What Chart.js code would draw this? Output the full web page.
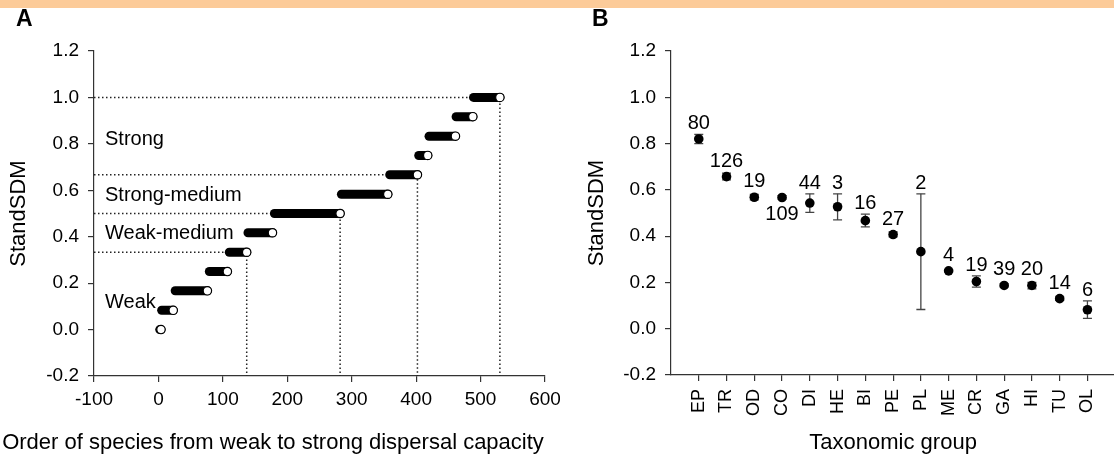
<!DOCTYPE html>
<html>
<head>
<meta charset="utf-8">
<title>StandSDM</title>
<script src="https://cdn.jsdelivr.net/npm/chart.js@4.4.1/dist/chart.umd.min.js"></script>
<style>
  html, body { margin: 0; padding: 0; background: #fff; }
  body { position: relative; width: 1114px; height: 463px; overflow: hidden; font-family: "Liberation Sans", Arial, sans-serif; }
  .strip { position: absolute; left: 0; top: 0; width: 1114px; height: 8px; background: #fccb99; }
  .panel { position: absolute; top: 0; }
  .letter { position: absolute; top: 7px; font-size: 23px; font-weight: bold; line-height: 1; }
</style>
</head>
<body>
<div class="strip"></div>
<canvas id="chartA" class="panel" style="left:0" width="560" height="463"></canvas>
<canvas id="chartB" class="panel" style="left:560px" width="561" height="463"></canvas>
<div class="letter" style="left:16px">A</div>
<div class="letter" style="left:592px">B</div>
<script>
// panel A: species ordered by StandSDM, one run of ranks per level
const sdmLevels = [0, 0.083, 0.167, 0.25, 0.333, 0.417, 0.5, 0.583, 0.667, 0.75, 0.833, 0.917, 1.0];
const rankStart = [2, 5, 26, 79, 110, 139, 180, 284, 359, 404, 420, 462, 489];
const rankEnd   = [4, 23, 76, 107, 137, 177, 282, 356, 402, 418, 461, 488, 530];
const classNames = ['Weak', 'Weak-medium', 'Strong-medium', 'Strong'];
const classLastLevel = [4, 6, 8, 12];   // index into sdmLevels where each class ends
const rankTicks = [-100, 0, 100, 200, 300, 400, 500, 600];
const sdmTicks = [-0.2, 0, 0.2, 0.4, 0.6, 0.8, 1.0, 1.2];

// panel B: mean StandSDM per taxonomic group
const groups   = ['EP', 'TR', 'OD', 'CO', 'DI', 'HE', 'BI', 'PE', 'PL', 'ME', 'CR', 'GA', 'HI', 'TU', 'OL'];
const sdmMean  = [0.820, 0.657, 0.568, 0.567, 0.543, 0.527, 0.467, 0.407, 0.333, 0.250, 0.204, 0.187, 0.187, 0.130, 0.082];
const sdmLow   = [0.800, 0.643, 0.557, 0.560, 0.503, 0.470, 0.440, 0.397, 0.083, 0.246, 0.180, 0.181, 0.172, 0.123, 0.045];
const sdmHigh  = [0.840, 0.672, 0.580, 0.575, 0.583, 0.583, 0.495, 0.418, 0.583, 0.254, 0.228, 0.194, 0.200, 0.138, 0.120];
const nSpecies = [80, 126, 19, 109, 44, 3, 16, 27, 2, 4, 19, 39, 20, 14, 6];

const FONT = '"Liberation Sans", Arial, sans-serif';
Chart.defaults.font.family = FONT;
Chart.defaults.color = '#000';

const axisGrey = '#333';
const gridStyle = {display: true, drawOnChartArea: false, drawTicks: true, tickLength: 6, color: axisGrey, lineWidth: 1.2};
const borderStyle = {display: true, color: axisGrey, width: 1.2};
const noPad = s => { s.paddingLeft = 0; s.paddingRight = 0; s.paddingTop = 0; s.paddingBottom = 0; };

const yAxis = (width, titlePad) => ({
    type: 'linear',
    min: sdmTicks[0],
    max: sdmTicks[sdmTicks.length - 1],
    ticks: {stepSize: 0.2, padding: 9, font: {size: 19},
            callback: v => (Math.abs(v) < 1e-9 ? 0 : v).toFixed(1)},
    grid: gridStyle,
    border: borderStyle,
    title: {display: true, text: 'StandSDM', font: {size: 22}, padding: {top: titlePad, bottom: 0}},
    afterFit: s => { s.width = width; noPad(s); }
});

const panelAText = {
    id: 'panelAText',
    afterDraw(chart, args, opts) {
        const {ctx, chartArea, scales: {y}} = chart;
        ctx.save();
        ctx.fillStyle = '#000';
        ctx.font = '20px ' + FONT;
        ctx.textAlign = 'left';
        ctx.textBaseline = 'alphabetic';
        classNames.forEach((name, i) => ctx.fillText(name, chartArea.left + 11, y.getPixelForValue(opts.labelAt[i])));
        ctx.font = '22px ' + FONT;
        ctx.textAlign = 'center';
        ctx.textBaseline = 'middle';
        ctx.fillText('Order of species from weak to strong dispersal capacity', 273, 443);
        ctx.restore();
    }
};

const barSets = sdmLevels.map((lv, i) => ({
    data: [{x: rankStart[i], y: lv}, {x: rankEnd[i], y: lv}],
    showLine: true,
    borderColor: '#000',
    borderWidth: 9,
    borderCapStyle: 'round',
    pointRadius: [0, 4.2],
    pointBackgroundColor: '#fff',
    pointBorderColor: '#000',
    pointBorderWidth: 1.2
}));

const guideSets = classLastLevel.map(k => ({
    data: [{x: rankTicks[0], y: sdmLevels[k]}, {x: rankEnd[k], y: sdmLevels[k]}, {x: rankEnd[k], y: sdmTicks[0]}],
    showLine: true,
    borderColor: '#222',
    borderWidth: 1.5,
    borderDash: [1.5, 2.5],
    pointRadius: 0
}));

new Chart(document.getElementById('chartA'), {
    type: 'scatter',
    data: {datasets: [...barSets, ...guideSets]},
    options: {
        responsive: false,
        animation: false,
        events: [],
        layout: {padding: {top: 51, right: 15, left: 0, bottom: 0}},
        plugins: {legend: {display: false}, tooltip: {enabled: false}, panelAText: {labelAt: [0.092, 0.391, 0.555, 0.796]}},
        scales: {
            x: {
                type: 'linear',
                min: rankTicks[0],
                max: rankTicks[rankTicks.length - 1],
                ticks: {stepSize: 100, padding: 6, font: {size: 19}},
                grid: gridStyle,
                border: borderStyle,
                afterFit: s => { s.height = 87; noPad(s); }
            },
            y: yAxis(94, 6)
        }
    },
    plugins: [panelAText]
});

const countLabels = {
    id: 'countLabels',
    afterDatasetsDraw(chart) {
        const {ctx, scales: {x, y}} = chart;
        ctx.save();
        ctx.font = '20px ' + FONT;
        ctx.fillStyle = '#000';
        ctx.textAlign = 'center';
        ctx.textBaseline = 'alphabetic';
        groups.forEach((g, i) => {
            const px = x.getPixelForValue(i + 1);
            const mid = y.getPixelForValue(sdmMean[i]);
            if (g === 'CO') {
                ctx.fillText(nSpecies[i], px, mid + 23);
            } else {
                const top = Math.min(y.getPixelForValue(sdmHigh[i]), mid - 5);
                ctx.fillText(nSpecies[i], px, top - 5);
            }
        });
        ctx.restore();
    }
};

const meanSet = {
    data: groups.map((g, i) => ({x: i + 1, y: sdmMean[i]})),
    pointRadius: 4.8,
    pointBackgroundColor: '#000',
    pointBorderColor: '#000',
    pointBorderWidth: 0
};
const capSet = {
    data: groups.flatMap((g, i) => [{x: i + 1, y: sdmLow[i]}, {x: i + 1, y: sdmHigh[i]}]),
    pointStyle: 'line',
    pointRadius: 4.5,
    pointBorderColor: '#444',
    pointBorderWidth: 1.3
};
const stemSet = {
    data: groups.flatMap((g, i) => [{x: i + 1, y: sdmLow[i]}, {x: i + 1, y: sdmHigh[i]}, {x: i + 1, y: null}]),
    showLine: true,
    spanGaps: false,
    borderColor: '#444',
    borderWidth: 1.3,
    pointRadius: 0
};

new Chart(document.getElementById('chartB'), {
    type: 'scatter',
    data: {datasets: [meanSet, capSet, stemSet]},
    options: {
        responsive: false,
        animation: false,
        events: [],
        layout: {padding: {top: 51, right: 0, left: 0, bottom: 0}},
        plugins: {legend: {display: false}, tooltip: {enabled: false}},
        scales: {
            x: {
                type: 'linear',
                min: 0,
                max: groups.length + 1,
                afterBuildTicks: s => { s.ticks = groups.map((g, i) => ({value: i + 1})); },
                ticks: {autoSkip: false, minRotation: 90, maxRotation: 90, padding: 8, font: {size: 18},
                        callback: v => groups[v - 1]},
                grid: gridStyle,
                border: borderStyle,
                title: {display: true, text: 'Taxonomic group', font: {size: 22}, padding: {top: 0, bottom: 7}},
                afterFit: s => { s.height = 88; noPad(s); }
            },
            y: yAxis(111, 24)
        }
    },
    plugins: [countLabels]
});
</script>
</body>
</html>
